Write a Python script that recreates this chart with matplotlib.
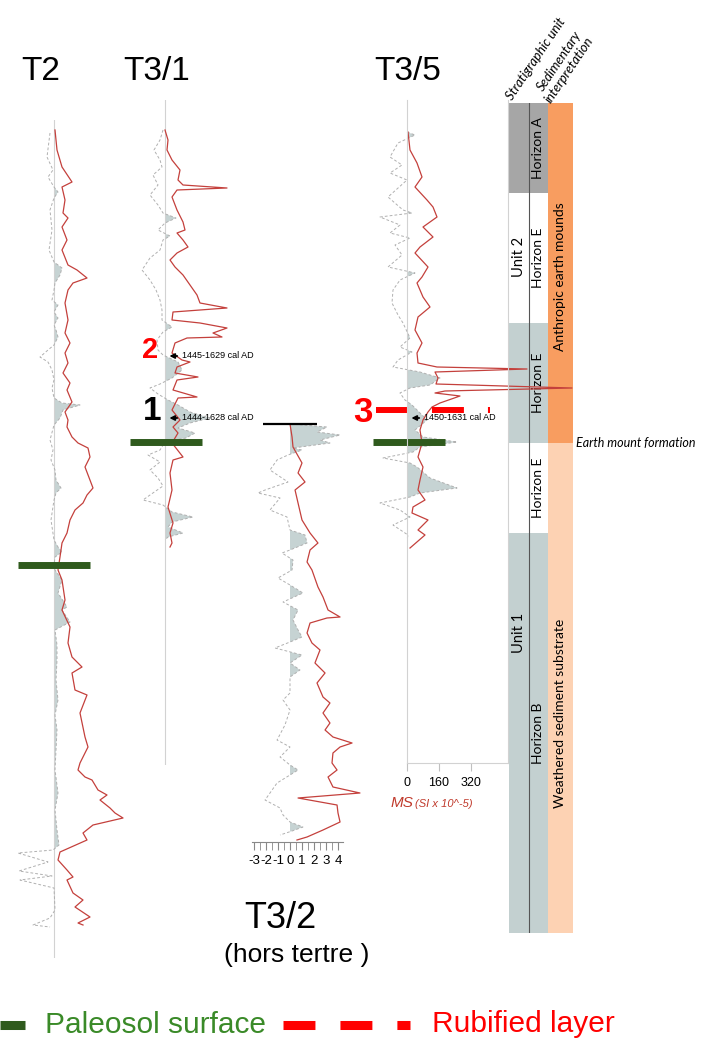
import matplotlib
matplotlib.use("Agg")
import matplotlib.pyplot as plt
import numpy as np
from matplotlib.lines import Line2D

plt.rcParams['font.family'] = ['Liberation Sans', 'DejaVu Sans']
plt.rcParams['lines.scale_dashes'] = False

# ---- data: (depth cm, value) ; MS in SI x 10^-5, T3/2 in its own scale ----
t2_red = [(0, 5), (10, 15), (18.5, 40), (26, 90), (28.5, 40), (35, 55), (41.5, 45), (44, 70), (48.5, 40),
          (55, 65), (60, 40), (67.5, 70), (70, 115), (74, 165), (76.5, 95), (80, 70), (86.5, 55), (95, 70),
          (101.5, 55), (106.5, 80), (111.5, 55), (116.5, 70), (121.5, 45), (126.5, 80), (130, 65), (136, 90),
          (141, 55), (145, 70), (148.5, 65), (153.5, 90), (156.5, 120), (159, 170), (163.5, 180), (168.5, 155),
          (179, 195), (182.5, 165), (186.5, 145), (190, 105), (195, 80), (201.5, 65), (206.5, 40), (213.5, 30),
          (220, 20), (225, 40), (235, 55), (240, 40), (248.5, 80), (256.5, 70), (263.5, 90), (268.5, 140),
          (271.5, 90), (280, 105), (282.5, 165), (291.5, 130), (303.5, 155), (308.5, 170), (316.5, 130),
          (320, 120), (323.5, 155), (325, 190), (330, 220), (332.5, 265), (335, 230), (339, 280), (341.5, 305),
          (344, 345), (347.5, 195), (351.5, 145), (355, 165), (361, 30), (365, 20), (370, 65), (373.5, 95),
          (375, 65), (381.5, 95), (385, 145), (388.5, 105), (393.5, 180), (396.5, 120), (397.5, 145)]
t2_grey = [(1.5, -20), (13.5, -35), (20, -5), (23.5, -30), (28.5, 0), (31, 20), (34, 0), (40, -20), (50, -10),
           (60, -25), (66, 0), (69, 40), (72.5, 30), (76.5, 5), (80, 0), (85, -10), (87.5, 20), (91, 0), (94, 20),
           (97.5, 0), (100, 10), (103.5, 20), (107.5, 0), (110, -30), (113.5, -70), (116, -30), (120, -10),
           (125, 0), (129, -10), (134, 0), (136.5, 40), (137.5, 130), (140, 45), (144, 30), (147.5, 0),
           (155, -20), (160, -5), (165, -15), (170, 5), (175, 10), (179, 35), (181.5, 10), (185, 0), (195, -15),
           (205, 0), (208.5, 20), (211, 40), (213.5, 5), (217.5, 0), (220, 5), (225, 40), (231.5, 20),
           (238.5, 65), (240, 40), (246, 80), (250, 5), (257.5, 15), (265, 15), (275, 10), (285, 20),
           (292.5, 5), (300, 15), (310, 10), (320, 5), (331.5, 20), (340, 5), (350, 15), (357.5, 25), (360, -5),
           (361.5, -180), (366, -30), (370.5, -175), (373, -10), (375, -170), (379, 0), (390, 5), (394, -20),
           (397.5, -105), (398.5, -20)]

t31_red = [(0, 0), (5, 15), (10, 10), (15, 35), (20, 75), (25, 65), (27.5, 90), (29, 310), (30, 60),
           (33.5, 35), (40, 60), (46, 90), (50, 100), (51.5, 60), (55, 90), (58.5, 115), (61.5, 60), (65, 25),
           (68.5, 50), (72.5, 90), (77.5, 125), (82.5, 160), (86.5, 175), (89, 310), (91, 40), (95, 35),
           (96.5, 175), (99, 310), (101.5, 240), (103.5, 285), (104, 110), (106.5, 50), (111.5, 35), (115, 85),
           (116, 125), (118.5, 60), (121.5, 50), (123.5, 165), (125, 60), (130, 40), (133.5, 160), (134, 65),
           (140, 35), (145, 75), (148.5, 40), (151.5, 65), (156.5, 35), (163.5, 90), (165, 40), (171.5, 25),
           (180, 35), (188.5, 15), (196.5, 40), (201.5, 25), (206.5, 35), (208.5, 25)]
t31_grey = [(0, -10), (5, -25), (10, -55), (15, -25), (18.5, -15), (22.5, -60), (27.5, -35), (32.5, -75),
            (37.5, -35), (41.5, -10), (44, 55), (46.5, 0), (50, -35), (53, 25), (55, -10), (60, -25), (64, -75),
            (70, -115), (75, -75), (80, -45), (85, -25), (90, -15), (95, -15), (98.5, 35), (101, -10), (105, -40),
            (110, -35), (112.5, -10), (116, 65), (120, 85), (124, 35), (127, -25), (129, -75), (132, -35),
            (135, 15), (137.5, 65), (141, 125), (144, 225), (146.5, 125), (149, 65), (151.5, 150), (154, 105),
            (156, 0), (160, -25), (162.5, -85), (166, -25), (170, -75), (174, -35), (178, -10), (182.5, -75),
            (185, -110), (187.5, -10), (191, 35), (193.5, 140), (196, 35), (198.5, 15), (201.5, 90), (203.5, 15),
            (205, 0)]

t35_red = [(0, 5), (9, 15), (15.5, 50), (22.5, 75), (27.5, 40), (34, 100), (37.5, 130), (42.5, 150),
           (47.5, 80), (52.5, 130), (57.5, 65), (60.5, 40), (67.5, 105), (72.5, 75), (75.5, 50), (82.5, 80),
           (87.5, 115), (92.5, 55), (99, 40), (105.5, 75), (110.5, 50), (115.5, 55), (117.5, 150), (118.5, 600),
           (120, 140), (123, 155), (126, 145), (128, 825), (129.5, 190), (130.5, 140), (132, 265), (135.5, 165),
           (137.5, 125), (140, 105), (144, 80), (149, 65), (155.5, 75), (162.5, 55), (167.5, 80), (174, 65),
           (179, 55), (184, 90), (187.5, 30), (190.5, 25), (194, 105), (199, 55), (201.5, 90), (208, 15)]
t35_grey = [(0, 0), (1.5, 40), (5.5, -45), (12.5, -85), (16.5, -25), (20.5, -85), (24, 0), (32.5, -95),
            (39, -20), (40.5, 25), (42.5, -135), (46.5, -35), (50.5, -85), (53, 15), (56.5, -60), (61.5, -25),
            (67.5, -95), (70.5, 40), (74, -35), (79, -70), (85.5, -75), (91.5, -45), (95.5, -20), (103, 15),
            (107.5, -35), (110, 25), (114, -45), (117.5, -70), (120, 65), (123, 165), (126.5, 115), (128, 15),
            (130.5, -35), (134, -10), (136.5, 25), (139, 50), (144, 100), (149, 40), (152.5, 80), (155, 250),
            (157.5, 65), (160, 30), (163, -120), (165.5, 15), (167.5, 50), (173, 115), (178, 250), (180.5, 65),
            (182.5, 15), (185.5, -135), (189, -35), (192.5, 15), (196.5, -70), (201.5, 5), (204, 0)]

t32_red = [(0, 0), (6.5, 0.17), (11.5, 0.25), (19.5, 1.0), (24.5, 0.67), (29, 1.25), (33, 0.42), (39.5, 0.67),
           (48, 1.0), (54.5, 1.67), (59.5, 2.33), (63, 1.67), (69, 1.42), (73, 1.83), (81.5, 2.33), (86.5, 2.75),
           (93, 3.17), (96.5, 4.17), (97, 3.08), (99.5, 1.67), (104.5, 1.42), (109.5, 1.83), (113, 2.5),
           (119.5, 2.08), (124.5, 2.92), (129.5, 2.25), (136.5, 2.75), (139.5, 3.33), (144.5, 2.75), (149.5, 3.33),
           (153, 2.92), (156.5, 3.58), (159.5, 5.17), (161.5, 4.17), (164.5, 3.58), (169.5, 3.5), (173, 3.92),
           (176.5, 3.17), (181.5, 3.58), (184.5, 5.83), (187, 0.67), (190.5, 3.92), (194.5, 4.0), (199, 4.17),
           (203, 2.75), (206.5, 1.42), (208, 0.58)]
t32_grey = [(0, 0), (1.5, 3.08), (4, 2.25), (5.5, 4.17), (8, 2.5), (9.5, 3.33), (12, 0.25), (13, 1.0),
            (15.5, -0.17), (18, -1.08), (23, -1.67), (29, -0.17), (33, -2.08), (34.5, -2.67), (37, -0.83),
            (43, -1.67), (46.5, -0.25), (53, 0), (55.5, 1.25), (59.5, 1.42), (63, 0), (64.5, -0.67), (68, 0.25),
            (73, 0.17), (77, -1.0), (80.5, 0), (84.5, 1.08), (89, -0.58), (93, 0.67), (98, 0.25), (103, 0.67),
            (106.5, 1.0), (109, 0), (112, -1.25), (115.5, 1.0), (119.5, 0), (123, 0.83), (126.5, 0), (134.5, 0),
            (138, -0.58), (143, 0), (150.5, -0.42), (158, -1.08), (161.5, 0), (166.5, -0.83), (170.5, 0),
            (173, 0.67), (175.5, 0), (179.5, -1.08), (188, -2.08), (192, -0.83), (195.5, -0.58), (199, 0),
            (201.5, 1.08), (203.5, 0.17), (205.5, -0.83)]

# paleosol surface depth per profile (cm)
paleosol_depth = {'T2': 217.5, 'T3/1': 156, 'T3/5': 155}
rubified_depth = 139
dates = [('T3/1', '2', 113, '1445-1629 cal AD'), ('T3/1', '1', 144, '1444-1628 cal AD'),
         ('T3/5', '3', 143, '1450-1631 cal AD')]

# stratigraphic log (cm from top of log)
horizon_names = ['Horizon A', 'Horizon E', 'Horizon E', 'Horizon E', 'Horizon B']
horizon_top = [0, 45, 110, 170, 215]
horizon_base = [45, 110, 170, 215, 415]
unit_names = ['Unit 2', 'Unit 1']
interp_names = ['Anthropic earth mounds', 'Weathered sediment substrate']
interp_top = [0, 170]
interp_base = [170, 415]

# ---- styles ----
RED = '#c4403c'
GREY = '#b0b0b0'
FILL = '#c6d3d3'
AXIS = '#d2d2d2'
GREEN = '#2f5a1d'
HORIZON_COLORS = ['#a6a6a6', 'white', '#c3d0d0', 'white', '#c3d0d0']
INTERP_COLORS = ['#f89d60', '#fdd2b3']
PX_PER_CM = 2.0
W, H = 710, 1040

fig = plt.figure(figsize=(W / 100, H / 100), dpi=100)


def box(l, t, r, b):
    return [l / W, 1 - b / H, (r - l) / W, (b - t) / H]


def profile_axes(l, t, r, b, zero_px, top_px, px_per_unit):
    ax = fig.add_axes(box(l, t, r, b))
    ax.set_xlim((l - zero_px) / px_per_unit, (r - zero_px) / px_per_unit)
    ax.set_ylim((b - top_px) / PX_PER_CM, (t - top_px) / PX_PER_CM)
    ax.patch.set_visible(False)
    for s in ax.spines.values():
        s.set_visible(False)
    ax.set_xticks([])
    ax.set_yticks([])
    return ax


def draw_curves(ax, red, grey):
    gd, gv = np.array(grey, dtype=float).T
    ax.fill_betweenx(gd, 0, gv, where=gv > 0, interpolate=True, color=FILL, lw=0, clip_on=False)
    ax.plot(gv, gd, color=GREY, lw=0.7, ls=(0, (2, 1.5)), clip_on=False)
    rd, rv = np.array(red, dtype=float).T
    ax.plot(rv, rd, color=RED, lw=0.9, clip_on=False)


# ---- stratigraphic columns ----
col = fig.add_axes(box(509, 103, 573, 933))
col.set_xlim(0, 64)
col.set_ylim(415, 0)
col.axis('off')
for name, t, b, c in zip(horizon_names, horizon_top, horizon_base, HORIZON_COLORS):
    col.bar(0, b - t, width=39, bottom=t, align='edge', color=c, lw=0)
    col.text(29.5, (t + b) / 2, name, rotation=90, ha='center', va='center',
             fontsize=10, family='Lato')
for name, t, b, c in zip(interp_names, interp_top, interp_base, INTERP_COLORS):
    col.bar(39, b - t, width=25, bottom=t, align='edge', color=c, lw=0)
col.text(51.5, 87, interp_names[0], rotation=90, ha='center', va='center', fontsize=10, family='Lato')
col.text(51.5, 305, interp_names[1], rotation=90, ha='center', va='center', fontsize=10, family='Lato')
col.text(10, 77, unit_names[0], rotation=90, ha='center', va='center', fontsize=10.5, family='Lato')
col.text(10, 265, unit_names[1], rotation=90, ha='center', va='center', fontsize=10.5, family='Lato')
col.plot([20, 20], [0, 415], color='#555555', lw=0.8)
col.text(67, 170, 'Earth mount formation', style='italic', ha='left', va='center',
         fontsize=9, family='Lato', clip_on=False)

for x, y, s in [(512, 101, 'Stratigraphic unit'), (543, 92, 'Sedimentary'), (551, 104, 'interpretation')]:
    fig.text(x / W, 1 - y / H, s, rotation=56, rotation_mode='anchor', ha='left', va='baseline',
             fontsize=9.5, family='Lato', style='italic')

# ---- T2 ----
ax2 = profile_axes(0, 120, 140, 958, 54, 130, 0.2)
ax2.axvline(0, color=AXIS, lw=0.8)
draw_curves(ax2, t2_red, t2_grey)
ax2.plot([-180, 180], [paleosol_depth['T2']] * 2, color=GREEN, lw=5, solid_capstyle='butt', clip_on=False)

# ---- T3/1 ----
ax31 = profile_axes(110, 100, 240, 765, 165, 130, 0.2)
ax31.axvline(0, color=AXIS, lw=0.8)
draw_curves(ax31, t31_red, t31_grey)
ax31.plot([-175, 185], [paleosol_depth['T3/1']] * 2, color=GREEN, lw=5, solid_capstyle='butt', clip_on=False)

# ---- T3/2 ----
ax32 = profile_axes(240, 410, 360, 842, 290, 424, 12)
draw_curves(ax32, t32_red, t32_grey)
ax32.plot([-2.25, 2.25], [0, 0], color='black', lw=1.6, solid_capstyle='butt', clip_on=False)
ax32.spines['bottom'].set_visible(True)
ax32.spines['bottom'].set_color('#888888')
ax32.spines['bottom'].set_bounds(-3.2, 4.4)
ax32.set_xticks(range(-3, 5))
ax32.set_xticks(np.arange(-3, 4.5, 0.5), minor=True)
ax32.set_xticklabels([str(v) for v in range(-3, 5)])
ax32.tick_params(axis='x', which='both', length=6, color='#888888', labelsize=9.5, pad=3)

# ---- T3/5 ----
ax35 = fig.add_axes(box(407, 100, 508, 763))
ax35.set_xlim(0, 505)
ax35.set_ylim((763 - 132) / PX_PER_CM, (100 - 132) / PX_PER_CM)
ax35.patch.set_visible(False)
ax35.spines['top'].set_visible(False)
for s in ['left', 'right', 'bottom']:
    ax35.spines[s].set_color(AXIS)
ax35.set_yticks([])
ax35.set_xticks([0, 160, 320])
ax35.tick_params(axis='x', length=6, color='#c0c0c0', labelsize=9, pad=4)
draw_curves(ax35, t35_red, t35_grey)
ax35.plot([-170, 190], [paleosol_depth['T3/5']] * 2, color=GREEN, lw=5, solid_capstyle='butt', clip_on=False)
ax35.add_line(Line2D([-155, 415], [rubified_depth] * 2, color='#ff0000', lw=4.3,
                     dashes=[23, 17.3], solid_capstyle='butt', dash_capstyle='butt', clip_on=False))
ax35.text(-80, 335.5, 'MS', color='#c0392b', style='italic', fontsize=11, ha='left', va='center', clip_on=False)
ax35.text(42, 336, '(SI x 10^-5)', color='#c0392b', style='italic', fontsize=8, ha='left', va='center',
          clip_on=False)

# ---- radiocarbon dates ----
prof_axes = {'T3/1': ax31, 'T3/5': ax35}
num_style = {'1': ('black', -65, 24), '2': ('#ff0000', -75, 21), '3': ('#ff0000', -220, 25)}
for prof, num, depth, label in dates:
    ax = prof_axes[prof]
    ax.annotate('', xy=(8, depth), xytext=(75, depth),
                arrowprops=dict(arrowstyle='-|>', color='black', lw=1.3, mutation_scale=7),
                annotation_clip=False)
    ax.text(85, depth, label, fontsize=6.5, ha='left', va='center', clip_on=False)
    c, xv, fs = num_style[num]
    ax.text(xv, depth - 3, num, color=c, fontsize=fs, fontweight='bold', ha='center', va='center',
            clip_on=False)

# ---- titles ----
for x, s in [(41, 'T2'), (157, 'T3/1'), (408, 'T3/5')]:
    fig.text(x / W, 1 - 80 / H, s, fontsize=24, ha='center', va='baseline')
fig.text(280 / W, 1 - 928 / H, 'T3/2', fontsize=26, ha='center', va='baseline')
fig.text(297 / W, 1 - 962 / H, '(hors tertre )', fontsize=19, ha='center', va='baseline')

# ---- legend ----
fig.add_artist(Line2D([0, 25 / W], [1 - 1025 / H] * 2, color=GREEN, lw=6.5, solid_capstyle='butt'))
fig.text(45 / W, 1 - 1033 / H, 'Paleosol surface', color='#3a8a28', fontsize=21.5, ha='left', va='baseline')
fig.add_artist(Line2D([283 / W, 410 / W], [1 - 1025 / H] * 2, color='#ff0000', lw=6.5,
                      dashes=[23, 18], dash_capstyle='butt'))
fig.text(432 / W, 1 - 1032 / H, 'Rubified layer', color='#ff0000', fontsize=21.5, ha='left', va='baseline')

fig.savefig('out.png', dpi=100)
